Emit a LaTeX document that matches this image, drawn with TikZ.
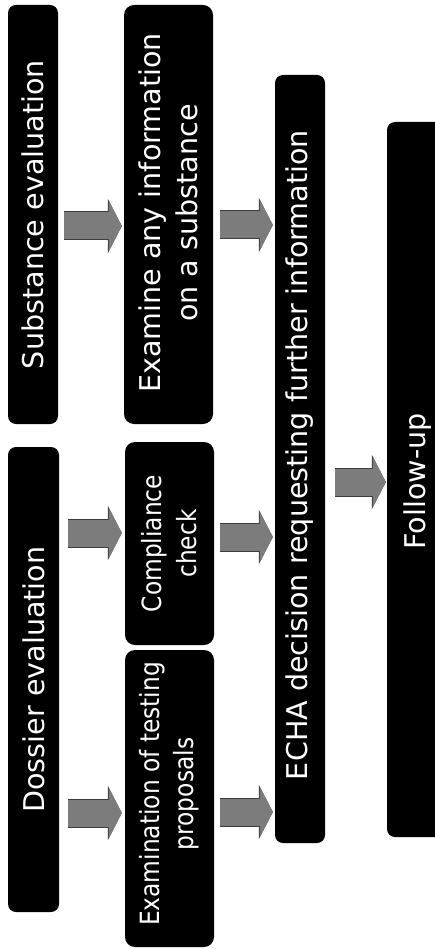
\documentclass[tikz,border=0pt]{standalone}
\usepackage{fontspec}
\newfontfamily\boxfont{DejaVu Sans}
\newfontfamily\narrowfont{DejaVu Sans}[FakeStretch=0.88]
\usetikzlibrary{arrows.meta}
\definecolor{arrowgray}{HTML}{7C7C7C}
\definecolor{arrowedge}{HTML}{3C3C3C}
\begin{document}
\begin{tikzpicture}[x=1pt,y=-1pt,
  box/.style={fill=black, draw=none, rounded corners=8pt, inner sep=0pt},
  widebox/.style={box, rounded corners=10pt},
  boxtext/.style={text=white, rotate=90, align=center, inner sep=0pt,
    font=\boxfont\fontsize{28.6}{37}\selectfont},
  narrowtext/.style={boxtext, font=\narrowfont\fontsize{26.5}{35}\selectfont},
  flow/.style={line width=27pt, draw=arrowgray,
    -{Triangle[width=50pt,length=13pt]},
    preaction={draw=arrowedge, line width=29pt, -{Triangle[width=54pt,length=14pt]}}}
]
\useasboundingbox (0,0) rectangle (435,949);

% boxes
\node[box, minimum width=50pt, minimum height=419pt] (subst) at (33,214.5) {};
\node[box, minimum width=51pt, minimum height=465pt] (dossier) at (33.5,679.5) {};
\node[widebox, minimum width=89pt, minimum height=419pt] (exam) at (168.5,214.5) {};
\node[widebox, minimum width=89pt, minimum height=203pt] (comp) at (169.5,543.5) {};
\node[widebox, minimum width=89pt, minimum height=297pt] (test) at (169.5,798.5) {};
\node[box, minimum width=50pt, minimum height=768pt] (echa) at (300,459) {};
\node[box, minimum width=61pt, minimum height=715pt] (follow) at (417.5,479.5) {};

% labels
\node[boxtext] (substtxt) at (subst) {Substance evaluation};
\node[boxtext] (dossiertxt) at (dossier) {Dossier evaluation};
\node[boxtext, xshift=1.5pt] (examtxt) at (exam) {Examine any information\\on a substance};
\node[narrowtext] (comptxt) at (comp) {Compliance\\check};
\node[narrowtext, xshift=4.5pt, font=\narrowfont\fontsize{26.5}{34}\selectfont] (testtxt) at (test) {Examination of testing\\proposals};
\node[boxtext, xshift=4pt] (echatxt) at (echa) {ECHA decision requesting further information};
\node[boxtext, xshift=-2pt] (followtxt) at (follow) {Follow-up};

% arrow rows
\coordinate (r1) at (0,226);
\coordinate (r2) at (0,533);
\coordinate (r3) at (0,813);
\coordinate (r4) at (0,225);
\coordinate (r5) at (0,537);
\coordinate (r6) at (0,812);
\coordinate (r7) at (0,482);

% block arrows
\draw[flow] ([xshift=6pt]subst.east |- r1) -- ([xshift=-2pt]exam.west |- r1);
\draw[flow] ([xshift=9pt]dossier.east |- r2) -- ([xshift=-3pt]comp.west |- r2);
\draw[flow] ([xshift=9pt]dossier.east |- r3) -- ([xshift=-3pt]test.west |- r3);
\draw[flow] ([xshift=7pt]exam.east |- r4) -- ([xshift=-2pt]echa.west |- r4);
\draw[flow] ([xshift=6pt]comp.east |- r5) -- ([xshift=-2pt]echa.west |- r5);
\draw[flow] ([xshift=6pt]test.east |- r6) -- ([xshift=-2pt]echa.west |- r6);
\draw[flow] ([xshift=10pt]echa.east |- r7) -- ([xshift=-1pt]follow.west |- r7);
\end{tikzpicture}
\end{document}
